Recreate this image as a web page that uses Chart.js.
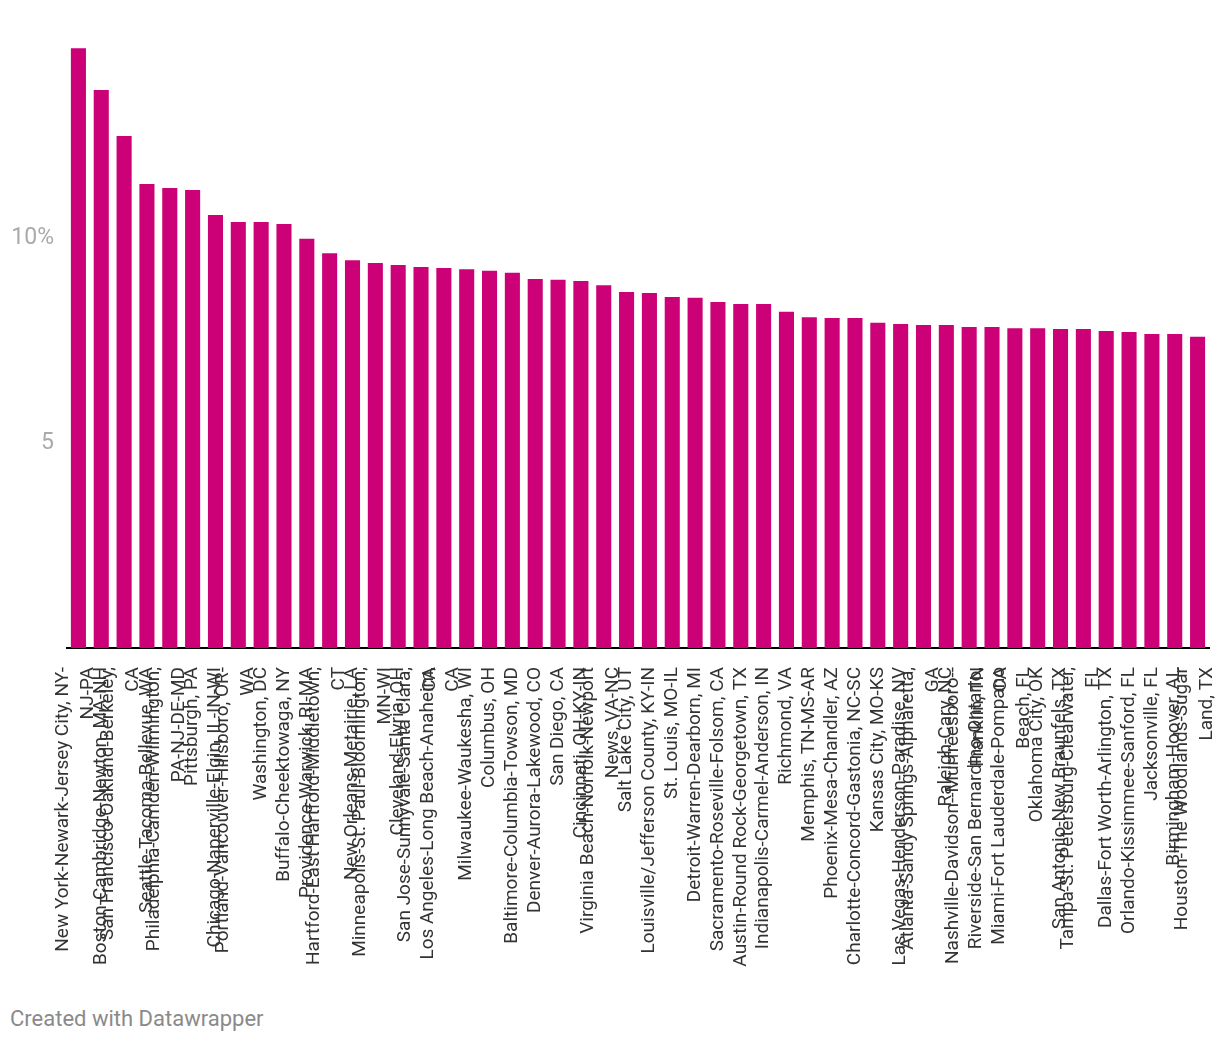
<!DOCTYPE html>
<html>
<head>
<meta charset="utf-8">
<script src="https://cdn.jsdelivr.net/npm/chart.js@4"></script>
<style>
  body { margin: 0; background: #fff; font-family: Roboto, sans-serif; }
  #wrap { position: relative; width: 1220px; height: 1000px; }
  #credit { position: absolute; left: 10px; top: 1006px; font-size: 22px; color: #8a8a8a; }
</style>
</head>
<body>
<div id="wrap"><canvas id="chart"></canvas></div>
<div id="credit">Created with Datawrapper</div>
<script>
// metro areas, each label already split into the lines shown under the axis
const metros = [
  ["New York-Newark-Jersey City, NY-", "NJ-PA"],
  "Boston-Cambridge-Newton, MA-NH",
  ["San Francisco-Oakland-Berkeley,", "CA"],
  "Seattle-Tacoma-Bellevue, WA",
  ["Philadelphia-Camden-Wilmington,", "PA-NJ-DE-MD"],
  "Pittsburgh, PA",
  "Chicago-Naperville-Elgin, IL-IN-WI",
  ["Portland-Vancouver-Hillsboro, OR-", "WA"],
  "Washington, DC",
  "Buffalo-Cheektowaga, NY",
  "Providence-Warwick, RI-MA",
  ["Hartford-East Hartford-Middletown,", "CT"],
  "New Orleans-Metairie, LA",
  ["Minneapolis-St. Paul-Bloomington,", "MN-WI"],
  "Cleveland-Elyria, OH",
  ["San Jose-Sunnyvale-Santa Clara,", "CA"],
  ["Los Angeles-Long Beach-Anaheim,", "CA"],
  "Milwaukee-Waukesha, WI",
  "Columbus, OH",
  "Baltimore-Columbia-Towson, MD",
  "Denver-Aurora-Lakewood, CO",
  "San Diego, CA",
  "Cincinnati, OH-KY-IN",
  ["Virginia Beach-Norfolk-Newport", "News, VA-NC"],
  "Salt Lake City, UT",
  "Louisville/Jefferson County, KY-IN",
  "St. Louis, MO-IL",
  "Detroit-Warren-Dearborn, MI",
  "Sacramento-Roseville-Folsom, CA",
  "Austin-Round Rock-Georgetown, TX",
  "Indianapolis-Carmel-Anderson, IN",
  "Richmond, VA",
  "Memphis, TN-MS-AR",
  "Phoenix-Mesa-Chandler, AZ",
  "Charlotte-Concord-Gastonia, NC-SC",
  "Kansas City, MO-KS",
  "Las Vegas-Henderson-Paradise, NV",
  ["Atlanta-Sandy Springs-Alpharetta,", "GA"],
  "Raleigh-Cary, NC",
  ["Nashville-Davidson--Murfreesboro--", "Franklin, TN"],
  ["Riverside-San Bernardino-Ontario,", "CA"],
  ["Miami-Fort Lauderdale-Pompano", "Beach, FL"],
  "Oklahoma City, OK",
  "San Antonio-New Braunfels, TX",
  ["Tampa-St. Petersburg-Clearwater,", "FL"],
  "Dallas-Fort Worth-Arlington, TX",
  "Orlando-Kissimmee-Sanford, FL",
  "Jacksonville, FL",
  "Birmingham-Hoover, AL",
  ["Houston-The Woodlands-Sugar", "Land, TX"]
];

const shares = [
  14.63, 13.61, 12.49, 11.32, 11.22, 11.17, 10.56, 10.39, 10.39, 10.34,
  9.98, 9.63, 9.46, 9.39, 9.34, 9.29, 9.27, 9.24, 9.20, 9.15,
  9.00, 8.98, 8.95, 8.85, 8.68, 8.66, 8.56, 8.54, 8.44, 8.39,
  8.39, 8.20, 8.07, 8.05, 8.05, 7.93, 7.90, 7.88, 7.88, 7.83,
  7.83, 7.80, 7.80, 7.78, 7.78, 7.73, 7.71, 7.66, 7.66, 7.59
];

const yTicks = { 5: "5", 10: "10%" };

// wrapped labels are centred on their bar, not started on it
const centerLines = {
  id: "centerLines",
  beforeDraw(chart) {
    const scale = chart.scales.x;
    scale.getLabelItems().forEach(function (item) {
      if (Array.isArray(item.label) && !item._centered) {
        const lh = item.font.lineHeight;
        item.options.translation[0] -= (item.label.length - 1) * lh / 2 + 3;
        item._centered = true;
      }
    });
  },
};

const ctx = document.getElementById("chart").getContext("2d");
const chart = new Chart(ctx, {
  type: "bar",
  data: {
    labels: metros,
    datasets: [
      {
        data: shares,
        backgroundColor: "#cc0077",
        borderWidth: 0,
        barPercentage: 0.66,
        categoryPercentage: 1,
      },
    ],
  },
  plugins: [centerLines],
  options: {
    responsive: true,
    maintainAspectRatio: false,
    animation: false,
    layout: { padding: { top: 33, left: 11, right: 11, bottom: 22 } },
    plugins: {
      legend: { display: false },
      tooltip: { enabled: false },
    },
    scales: {
      x: {
        grid: { display: false, tickLength: 0 },
        border: { display: true, color: "#000", width: 2 },
        ticks: {
          autoSkip: false,
          minRotation: 90,
          maxRotation: 90,
          padding: 19,
          color: "#333",
          font: { family: "Roboto", size: 19, lineHeight: 1.32 },
        },
        afterFit: function (scale) {
          scale.height = 330;
          scale.paddingLeft = 0;
          scale.paddingRight = 0;
        },
      },
      y: {
        min: 0,
        max: 15,
        grid: { display: false, tickLength: 0 },
        border: { display: false },
        ticks: {
          stepSize: 5,
          padding: 13,
          color: "#aaa",
          font: { family: "Roboto", size: 23 },
          callback: function (value) {
            return yTicks[value] || "";
          },
        },
        afterFit: function (scale) {
          scale.width = 56;
        },
      },
    },
  },
});
</script>
</body>
</html>
